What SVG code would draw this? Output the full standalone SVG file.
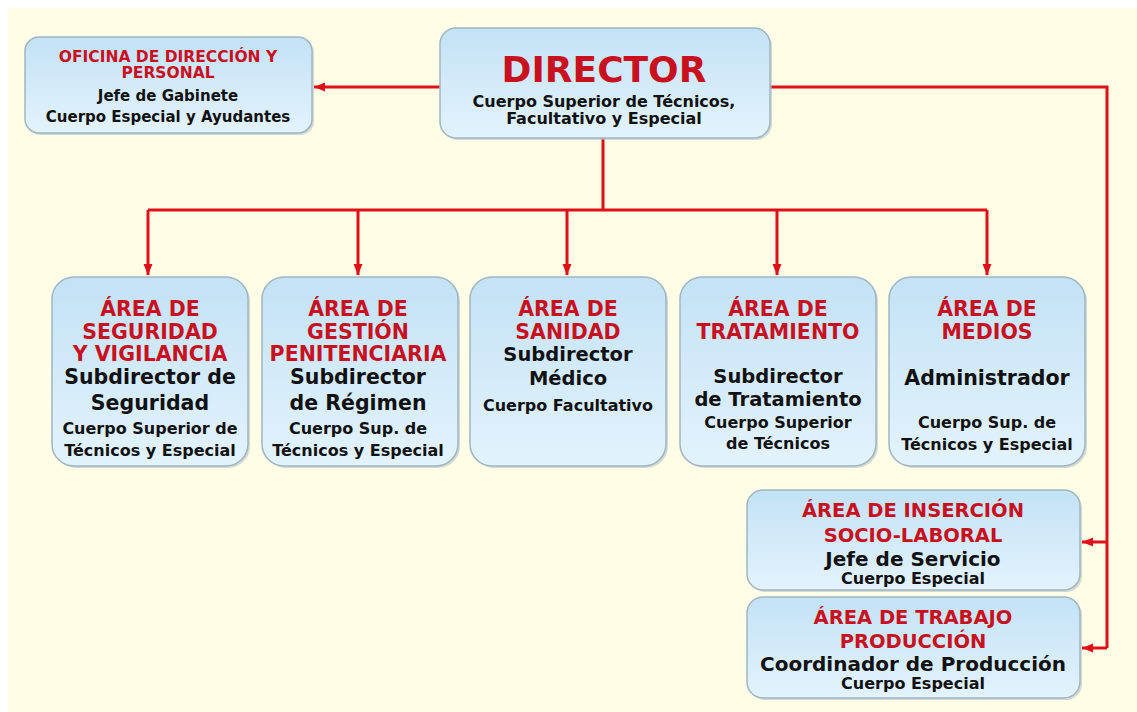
<svg xmlns="http://www.w3.org/2000/svg" width="1137" height="712" viewBox="0 0 1137 712">
<defs>
<linearGradient id="boxg" x1="0" y1="0" x2="0" y2="1">
<stop offset="0" stop-color="#c3e2f6"/>
<stop offset="1" stop-color="#e3f3fc"/>
</linearGradient>
<marker id="ah" markerUnits="userSpaceOnUse" markerWidth="12" markerHeight="12" viewBox="0 0 12 12" refX="11" refY="6" orient="auto">
<path d="M0,1.5 L11,6 L0,10.5 Z" fill="#e01018"/>
</marker>
<style>
.box{fill:url(#boxg);stroke:#9fb6c4;stroke-width:1.5}
.sh{fill:#aebcc5;opacity:.55}
text{font-family:"DejaVu Sans","Liberation Sans",sans-serif;font-weight:bold;text-anchor:middle}
.r{fill:#c8101f}
.k{fill:#111}
.c{fill:none;stroke:#e01018;stroke-width:3}
</style>
</defs>
<rect width="1137" height="712" fill="#ffffff"/>
<rect x="8" y="8" width="1129" height="704" fill="#fffde6"/>

<g id="connectors">
<path class="c" d="M440,87 H314" marker-end="url(#ah)"/>
<path class="c" d="M770,87 H1107 V648"/>
<path class="c" d="M1107,542 H1082" marker-end="url(#ah)"/>
<path class="c" d="M1107,648 H1082" marker-end="url(#ah)"/>
<path class="c" d="M603,138 V210"/>
<path class="c" d="M148,210 H987"/>
<path class="c" d="M148,210 V275" marker-end="url(#ah)"/>
<path class="c" d="M358,210 V275" marker-end="url(#ah)"/>
<path class="c" d="M567,210 V275" marker-end="url(#ah)"/>
<path class="c" d="M777,210 V275" marker-end="url(#ah)"/>
<path class="c" d="M987,210 V275" marker-end="url(#ah)"/>
</g>

<g id="oficina">
<rect class="sh" x="27" y="39" width="287" height="96" rx="14"/>
<rect class="box" x="25" y="37" width="287" height="96" rx="14"/>
<text class="r" x="168" y="62" font-size="15.5">OFICINA DE DIRECCIÓN Y</text>
<text class="r" x="168" y="78" font-size="15.5">PERSONAL</text>
<text class="k" x="168" y="101" font-size="15">Jefe de Gabinete</text>
<text class="k" x="168" y="122" font-size="15">Cuerpo Especial y Ayudantes</text>
</g>

<g id="director">
<rect class="sh" x="442" y="30" width="330" height="110" rx="16"/>
<rect class="box" x="440" y="28" width="330" height="110" rx="16"/>
<text class="r" x="604" y="82" font-size="36">DIRECTOR</text>
<text class="k" x="604" y="107" font-size="16">Cuerpo Superior de Técnicos,</text>
<text class="k" x="604" y="124" font-size="16">Facultativo y Especial</text>
</g>

<g id="seguridad">
<rect class="sh" x="54" y="279" width="196" height="189" rx="22"/>
<rect class="box" x="52" y="277" width="196" height="189" rx="22"/>
<text class="r" x="150" y="316" font-size="20.5">ÁREA DE</text>
<text class="r" x="150" y="339" font-size="20.5">SEGURIDAD</text>
<text class="r" x="150" y="361" font-size="20.5">Y VIGILANCIA</text>
<text class="k" x="150" y="384" font-size="20.5">Subdirector de</text>
<text class="k" x="150" y="410" font-size="20.5">Seguridad</text>
<text class="k" x="150" y="434" font-size="16">Cuerpo Superior de</text>
<text class="k" x="150" y="456" font-size="16">Técnicos y Especial</text>
</g>

<g id="gestion">
<rect class="sh" x="264" y="279" width="196" height="189" rx="22"/>
<rect class="box" x="262" y="277" width="196" height="189" rx="22"/>
<text class="r" x="358" y="316" font-size="20.5">ÁREA DE</text>
<text class="r" x="358" y="339" font-size="20.5">GESTIÓN</text>
<text class="r" x="358" y="361" font-size="20.5">PENITENCIARIA</text>
<text class="k" x="358" y="384" font-size="20.5">Subdirector</text>
<text class="k" x="358" y="410" font-size="20.5">de Régimen</text>
<text class="k" x="358" y="434" font-size="16">Cuerpo Sup. de</text>
<text class="k" x="358" y="456" font-size="16">Técnicos y Especial</text>
</g>

<g id="sanidad">
<rect class="sh" x="472" y="279" width="196" height="189" rx="22"/>
<rect class="box" x="470" y="277" width="196" height="189" rx="22"/>
<text class="r" x="568" y="316" font-size="20.5">ÁREA DE</text>
<text class="r" x="568" y="339" font-size="20.5">SANIDAD</text>
<text class="k" x="568" y="361" font-size="19.5">Subdirector</text>
<text class="k" x="568" y="385" font-size="19.5">Médico</text>
<text class="k" x="568" y="411" font-size="16">Cuerpo Facultativo</text>
</g>

<g id="tratamiento">
<rect class="sh" x="682" y="279" width="196" height="189" rx="22"/>
<rect class="box" x="680" y="277" width="196" height="189" rx="22"/>
<text class="r" x="778" y="316" font-size="20.5">ÁREA DE</text>
<text class="r" x="778" y="339" font-size="20.5">TRATAMIENTO</text>
<text class="k" x="778" y="383" font-size="19.5">Subdirector</text>
<text class="k" x="778" y="406" font-size="19.5">de Tratamiento</text>
<text class="k" x="778" y="428" font-size="16">Cuerpo Superior</text>
<text class="k" x="778" y="449" font-size="16">de Técnicos</text>
</g>

<g id="medios">
<rect class="sh" x="891" y="279" width="196" height="189" rx="22"/>
<rect class="box" x="889" y="277" width="196" height="189" rx="22"/>
<text class="r" x="987" y="316" font-size="20.5">ÁREA DE</text>
<text class="r" x="987" y="339" font-size="20.5">MEDIOS</text>
<text class="k" x="987" y="385" font-size="20.5">Administrador</text>
<text class="k" x="987" y="428" font-size="16">Cuerpo Sup. de</text>
<text class="k" x="987" y="450" font-size="16">Técnicos y Especial</text>
</g>

<g id="insercion">
<rect class="sh" x="749" y="492" width="333" height="100" rx="16"/>
<rect class="box" x="747" y="490" width="333" height="100" rx="16"/>
<text class="r" x="913" y="517" font-size="19.5">ÁREA DE INSERCIÓN</text>
<text class="r" x="913" y="542" font-size="19.5">SOCIO-LABORAL</text>
<text class="k" x="913" y="566" font-size="20">Jefe de Servicio</text>
<text class="k" x="913" y="584" font-size="16">Cuerpo Especial</text>
</g>

<g id="trabajo">
<rect class="sh" x="749" y="599" width="333" height="101" rx="16"/>
<rect class="box" x="747" y="597" width="333" height="101" rx="16"/>
<text class="r" x="913" y="624" font-size="19.5">ÁREA DE TRABAJO</text>
<text class="r" x="913" y="648" font-size="19.5">PRODUCCIÓN</text>
<text class="k" x="913" y="671" font-size="20">Coordinador de Producción</text>
<text class="k" x="913" y="689" font-size="16">Cuerpo Especial</text>
</g>
</svg>
